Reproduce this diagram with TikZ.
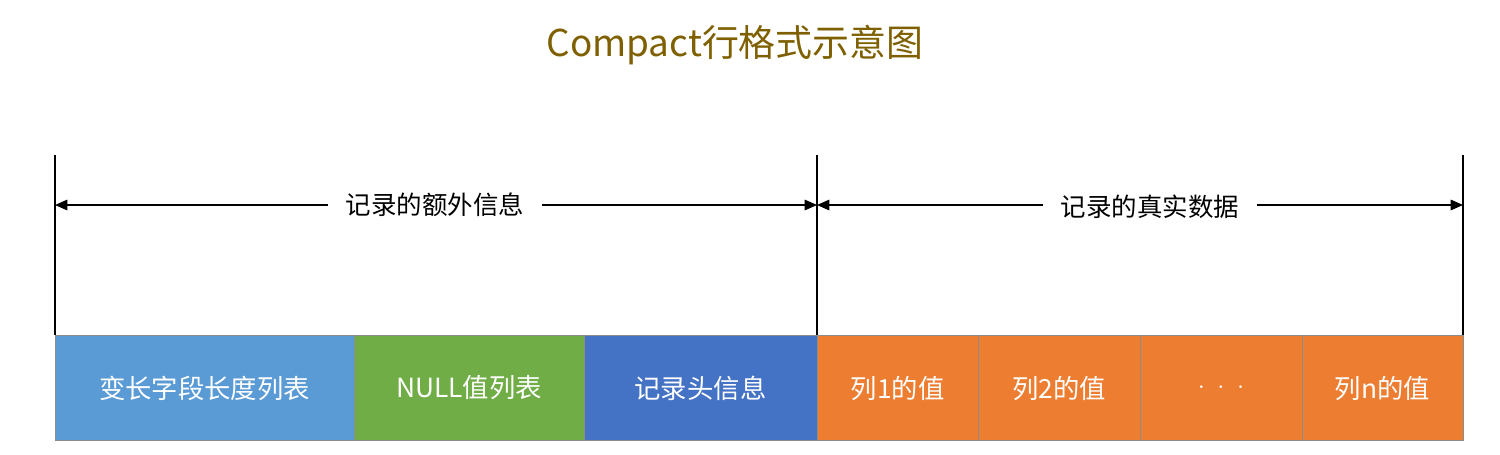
\documentclass[tikz,border=0pt]{standalone}
\usepackage{fontspec}
\setmainfont{Noto Sans CJK SC}
\usetikzlibrary{arrows.meta}
\definecolor{cblue}{HTML}{5B9BD5}
\definecolor{cgreen}{HTML}{70AD47}
\definecolor{cdblue}{HTML}{4472C4}
\definecolor{corange}{HTML}{ED7D31}
\definecolor{ctitle}{HTML}{7F6000}
\begin{document}
\begin{tikzpicture}[x=0.02cm,y=-0.02cm,
  cell/.style={draw=black!45,line width=0.5pt,text=white,font=\fontsize{15}{18}\selectfont},
  dim/.style={-{Triangle[length=7pt,width=6pt]},line width=0.7pt},
  lbl/.style={font=\fontsize{14.5}{18}\selectfont,fill=white,inner xsep=10pt},
  tick/.style={line width=0.7pt}]
\useasboundingbox (0,0) rectangle (1500,454);
\node[text=ctitle,font=\fontsize{21}{24}\selectfont] (title) at (735,45) {Compact行格式示意图};
\path[cell,fill=cblue] (55,335) rectangle (354,440);
\node[text=white,font=\fontsize{15}{18}\selectfont] (c1) at (204.5,388) {变长字段长度列表};
\path[cell,fill=cgreen] (354,335) rectangle (584,440);
\node[text=white,font=\fontsize{15}{18}\selectfont] (c2) at (469,388) {NULL值列表};
\path[cell,fill=cdblue] (584,335) rectangle (817,440);
\node[text=white,font=\fontsize{15}{18}\selectfont] (c3) at (700.5,388) {记录头信息};
\path[cell,fill=corange] (817,335) rectangle (978,440);
\node[text=white,font=\fontsize{15}{18}\selectfont] (c4) at (897.5,388) {列1的值};
\path[cell,fill=corange] (978,335) rectangle (1140,440);
\node[text=white,font=\fontsize{15}{18}\selectfont] (c5) at (1059,388) {列2的值};
\path[cell,fill=corange] (1140,335) rectangle (1302,440);
\node[text=white,font=\fontsize{15}{18}\selectfont] (c6) at (1221,388) {$\cdot\;\cdot\;\cdot$};
\path[cell,fill=corange] (1302,335) rectangle (1463,440);
\node[text=white,font=\fontsize{15}{18}\selectfont] (c7) at (1382.5,388) {列n的值};
\coordinate (t1a) at (55,155); \coordinate (t1b) at (55,335);
\coordinate (t2a) at (817,155); \coordinate (t2b) at (817,335);
\coordinate (t3a) at (1463,155); \coordinate (t3b) at (1463,335);
\draw[tick] (t1a) -- (t1b);
\draw[tick] (t2a) -- (t2b);
\draw[tick] (t3a) -- (t3b);
\coordinate (a1l) at (55,205); \coordinate (a1r) at (817,205);
\coordinate (a2l) at (817,205); \coordinate (a2r) at (1463,205);
\node[lbl] (l1) at (435,205) {记录的额外信息};
\node[lbl] (l2) at (1150,207) {记录的真实数据};
\draw[dim] (l1.west) -- (a1l);
\draw[dim] (l1.east) -- (a1r);
\draw[dim] (l2.west |- a2l) -- (a2l);
\draw[dim] (l2.east |- a2r) -- (a2r);
\end{tikzpicture}
\end{document}
